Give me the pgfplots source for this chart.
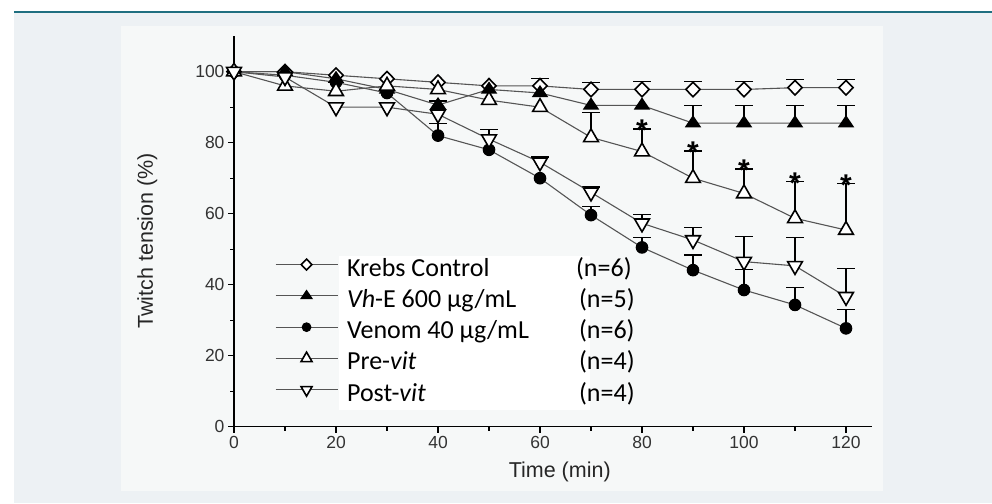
\documentclass[border=0pt]{standalone}
\usepackage{pgfplots}
\pgfplotsset{compat=1.18}
\usepackage{fontspec}
\setmainfont{Liberation Sans}
\newfontfamily\calibri{Carlito}
\definecolor{teal1}{RGB}{31,111,128}
\definecolor{outerbg}{RGB}{237,241,244}
\definecolor{innerbg}{RGB}{246,248,248}
\definecolor{linegray}{RGB}{85,85,85}

\pgfplotsset{
  ser/.style={color=linegray, line width=1.1pt},
  ebar/.style={draw=none, mark=none, forget plot,
    error bars/.cd, y dir=plus, y explicit,
    error bar style={draw=black, line width=1.3pt},
    error mark options={rotate=90, draw=black, mark size=9pt, line width=1.3pt}},
}

\begin{document}
\begin{tikzpicture}[x=1pt,y=1pt]
\useasboundingbox (0,0) rectangle (992,503);
\fill[outerbg] (14,0) rectangle (992,491);
\fill[innerbg] (121,12) rectangle (883,477);
\draw[teal1, line width=2pt] (14,491.3) -- (992,491.3);

\begin{axis}[
  at={(234pt,76.3pt)}, anchor=south west,
  scale only axis, width=637.5pt, height=390.5pt,
  xmin=0, xmax=125, ymin=0, ymax=110,
  clip=false,
  axis x line*=bottom, axis y line*=left,
  axis line style={line width=1.5pt, black},
  xtick={0,20,...,120}, ytick={0,20,...,100},
  minor xtick={10,30,...,110}, minor ytick={10,30,...,90},
  tick align=outside, major tick length=6pt, minor tick length=4pt,
  tick style={line width=1.3pt, black},
  ticklabel style={font=\fontsize{17.5}{18}\selectfont, text=black!80},
  /pgf/number format/assume math mode=true,
  xlabel={Time (min)}, ylabel={Twitch tension (\%)},
  label style={font=\fontsize{21.5}{22}\selectfont, text=black!85},
  xlabel style={at={(axis description cs:0.511,-0.116)}, anchor=center},
  ylabel style={at={(axis description cs:-0.136,0.476)}, anchor=center},
  legend style={at={(axis cs:8.04,47.5)}, anchor=north west, draw=none, fill=none,
    inner sep=0pt, outer sep=0pt, row sep=6.3pt, column sep=9pt,
    font=\calibri\fontsize{26}{30}\selectfont,
    nodes={inner sep=0pt, text height=18pt, text depth=7pt}},
  legend cell align=left,
  legend image code/.code={\draw[mark repeat=2, mark phase=2, #1, every mark/.append style={scale=0.75}]
    plot coordinates {(0pt,6pt) (31pt,6pt) (62pt,6pt)};},
]
\fill[white] (axis cs:20.5,48.1) rectangle (axis cs:69.8,4.7);

% error bars (drawn first, behind the marks)
\addplot[ebar] coordinates {
  (60,96) +- (0,2) (70,95) +- (0,2) (80,95) +- (0,2.3) (90,95) +- (0,2.3)
  (100,95) +- (0,2.3) (110,95.5) +- (0,2.3) (120,95.5) +- (0,2.3)};
\addplot[ebar] coordinates {
  (40,90.6) +- (0,1.2) (90,85.5) +- (0,5) (100,85.5) +- (0,5) (110,85.5) +- (0,5) (120,85.5) +- (0,5)};
\addplot[ebar] coordinates {
  (40,82) +- (0,3.5) (70,59.6) +- (0,2.5) (80,50.5) +- (0,2.7) (90,44.1) +- (0,4.3)
  (100,38.5) +- (0,5.8) (110,34.3) +- (0,5) (120,27.7) +- (0,5.4)};
\addplot[ebar] coordinates {
  (70,81.5) +- (0,7) (80,77.5) +- (0,6.4) (90,70) +- (0,7.7)
  (100,65.7) +- (0,6.9) (110,58.7) +- (0,10.3) (120,55.4) +- (0,13.2)};
\addplot[ebar] coordinates {
  (40,88) +- (0,3.7) (50,81) +- (0,2.8) (60,74.5) +- (0,1.5) (70,66) +- (0,1.5)
  (80,57.3) +- (0,2.5) (90,52.6) +- (0,3.6) (100,46.5) +- (0,7) (110,45.3) +- (0,8) (120,36.6) +- (0,8)};

% significance stars
\addplot[draw=none, mark=none, forget plot, nodes near coords={\textbf{*}},
  nodes near coords style={font=\fontsize{30}{30}\selectfont, text=black, anchor=base, inner sep=0pt, yshift=-12pt}]
  coordinates {(80,83.9) (90,77.7) (100,72.6) (110,69) (120,68.6)};

\addplot[ser, mark=diamond*, mark options={draw=black, fill=white, line width=1.6pt, mark size=7.3pt, xscale=1.3}]
  coordinates {(0,100) (10,100) (20,99) (30,98) (40,97) (50,96) (60,96) (70,95) (80,95)
  (90,95) (100,95) (110,95.5) (120,95.5)};
\addlegendentry{\makebox[229pt][l]{Krebs Control}(n=6)}

\addplot[ser, mark=triangle*, mark options={draw=black, fill=black, line width=1.4pt, mark size=8pt, yscale=0.85}]
  coordinates {(0,100) (10,100) (20,98) (30,95) (40,90.6) (50,95) (60,94) (70,90.5) (80,90.5)
  (90,85.5) (100,85.5) (110,85.5) (120,85.5)};
\addlegendentry{\makebox[232pt][l]{\textit{Vh}-E 600 µg/mL}(n=5)}

\addplot[ser, mark=*, mark options={draw=black, fill=black, line width=1pt, mark size=5.8pt}]
  coordinates {(0,100) (10,99) (20,97) (30,94) (40,82) (50,78) (60,70) (70,59.6) (80,50.5)
  (90,44.1) (100,38.5) (110,34.3) (120,27.7)};
\addlegendentry{\makebox[232pt][l]{Venom 40 µg/mL}(n=6)}

\addplot[ser, mark=triangle*, mark options={draw=black, fill=white, line width=1.6pt, mark size=8.5pt}]
  coordinates {(0,100) (10,96) (20,94.5) (30,96) (40,95) (50,92) (60,90) (70,81.5) (80,77.5)
  (90,70) (100,65.7) (110,58.7) (120,55.4)};
\addlegendentry{\makebox[232pt][l]{Pre-\textit{vit}}(n=4)}

\addplot[ser, mark=triangle*, mark options={draw=black, fill=white, line width=1.6pt, mark size=8.5pt, rotate=180}]
  coordinates {(0,100) (10,98.5) (20,90) (30,90) (40,88) (50,81) (60,74.5) (70,66) (80,57.3)
  (90,52.6) (100,46.5) (110,45.3) (120,36.6)};
\addlegendentry{\makebox[232pt][l]{Post-\textit{vit}}(n=4)}
\end{axis}
\end{tikzpicture}
\end{document}
